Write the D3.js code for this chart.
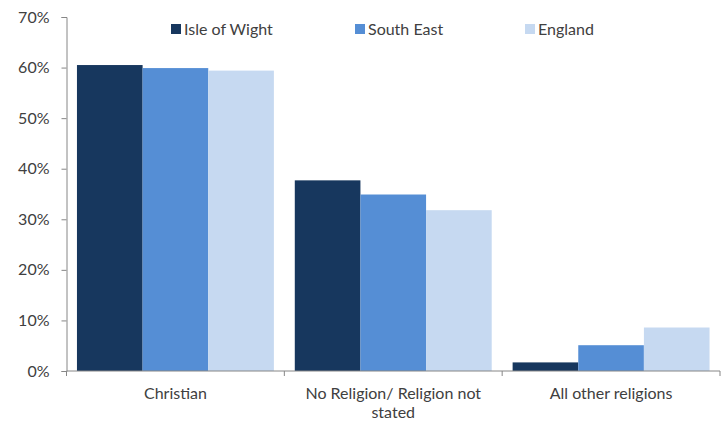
<!DOCTYPE html>
<html>
<head>
<meta charset="utf-8">
<script src="https://cdn.jsdelivr.net/npm/d3@7"></script>
<style>
  html, body { margin: 0; padding: 0; background: #fff; }
  svg { display: block; font-family: Lato, "Open Sans", sans-serif; }
</style>
</head>
<body>
<svg id="chart" width="727" height="421"></svg>
<script>
// Religion by area (% of population)
const categories = ["Christian", "No Religion/ Religion not stated", "All other religions"];
const seriesNames = ["Isle of Wight", "South East", "England"];
const isleOfWight = [60.5, 37.7, 1.7];
const southEast = [59.9, 34.9, 5.1];
const england = [59.4, 31.8, 8.6];
const yTicks = [0, 10, 20, 30, 40, 50, 60, 70];
const colors = ["#17375E", "#558ED5", "#C6D9F1"];

const series = [isleOfWight, southEast, england];

const svg = d3.select("#chart");
const margin = { left: 66.5, right: 7, top: 17, bottom: 50 };
const width = 727, height = 421;
const axisColor = "#868686";
const textColor = "#404040";

const x0 = d3.scaleBand()
  .domain(categories)
  .range([margin.left, width - margin.right])
  .paddingInner(0.096)
  .paddingOuter(0.048);

const x1 = d3.scaleBand()
  .domain(seriesNames)
  .range([0, x0.bandwidth()]);

const y = d3.scaleLinear()
  .domain([0, 70])
  .range([height - margin.bottom, margin.top]);

// Bars
const groups = svg.append("g")
  .selectAll("g")
  .data(categories)
  .join("g")
  .attr("transform", d => `translate(${x0(d)},0)`);

groups.selectAll("rect")
  .data((c, i) => seriesNames.map((s, j) => ({ s, j, v: series[j][i] })))
  .join("rect")
  .attr("x", d => x1(d.s))
  .attr("width", x1.bandwidth())
  .attr("y", d => y(d.v))
  .attr("height", d => y(0) - y(d.v))
  .attr("fill", d => colors[d.j]);

// Y axis
const yAxis = svg.append("g")
  .attr("transform", `translate(${margin.left},0)`)
  .call(d3.axisLeft(y).tickValues(yTicks).tickFormat(d => d + "%").tickSize(5).tickPadding(12));
yAxis.select(".domain").attr("stroke", axisColor);
yAxis.selectAll(".tick line").attr("stroke", axisColor);
yAxis.selectAll(".tick text")
  .attr("fill", textColor)
  .style("font-size", "16px")
  .style("font-family", "Lato, sans-serif");

// X axis line and category boundary ticks
const step = (width - margin.right - margin.left) / categories.length;
const xAxis = svg.append("g");
xAxis.append("line")
  .attr("x1", margin.left).attr("x2", width - margin.right)
  .attr("y1", y(0)).attr("y2", y(0))
  .attr("stroke", axisColor);
xAxis.selectAll("line.tk")
  .data(d3.range(categories.length + 1))
  .join("line")
  .attr("class", "tk")
  .attr("x1", i => margin.left + i * step).attr("x2", i => margin.left + i * step)
  .attr("y1", y(0)).attr("y2", y(0) + 5)
  .attr("stroke", axisColor);

// Category labels (wrapped)
const labelLines = {
  "Christian": ["Christian"],
  "No Religion/ Religion not stated": ["No Religion/ Religion not", "stated"],
  "All other religions": ["All other religions"]
};
categories.forEach(c => {
  const t = xAxis.append("text")
    .attr("x", x0(c) + x0.bandwidth() / 2)
    .attr("y", 398.5)
    .attr("text-anchor", "middle")
    .attr("fill", textColor)
    .style("font-size", "16px");
  labelLines[c].forEach((line, k) => {
    t.append("tspan")
      .attr("x", x0(c) + x0.bandwidth() / 2)
      .attr("dy", k === 0 ? 0 : 19.5)
      .text(line);
  });
});

// Legend
const legendX = [171, 355, 525];
const legend = svg.append("g");
seriesNames.forEach((s, j) => {
  legend.append("rect")
    .attr("x", legendX[j]).attr("y", 24)
    .attr("width", 10).attr("height", 10)
    .attr("fill", colors[j]);
  legend.append("text")
    .attr("x", legendX[j] + 13).attr("y", 34.5)
    .attr("fill", textColor)
    .style("font-size", "16px")
    .text(s);
});
</script>
</body>
</html>
